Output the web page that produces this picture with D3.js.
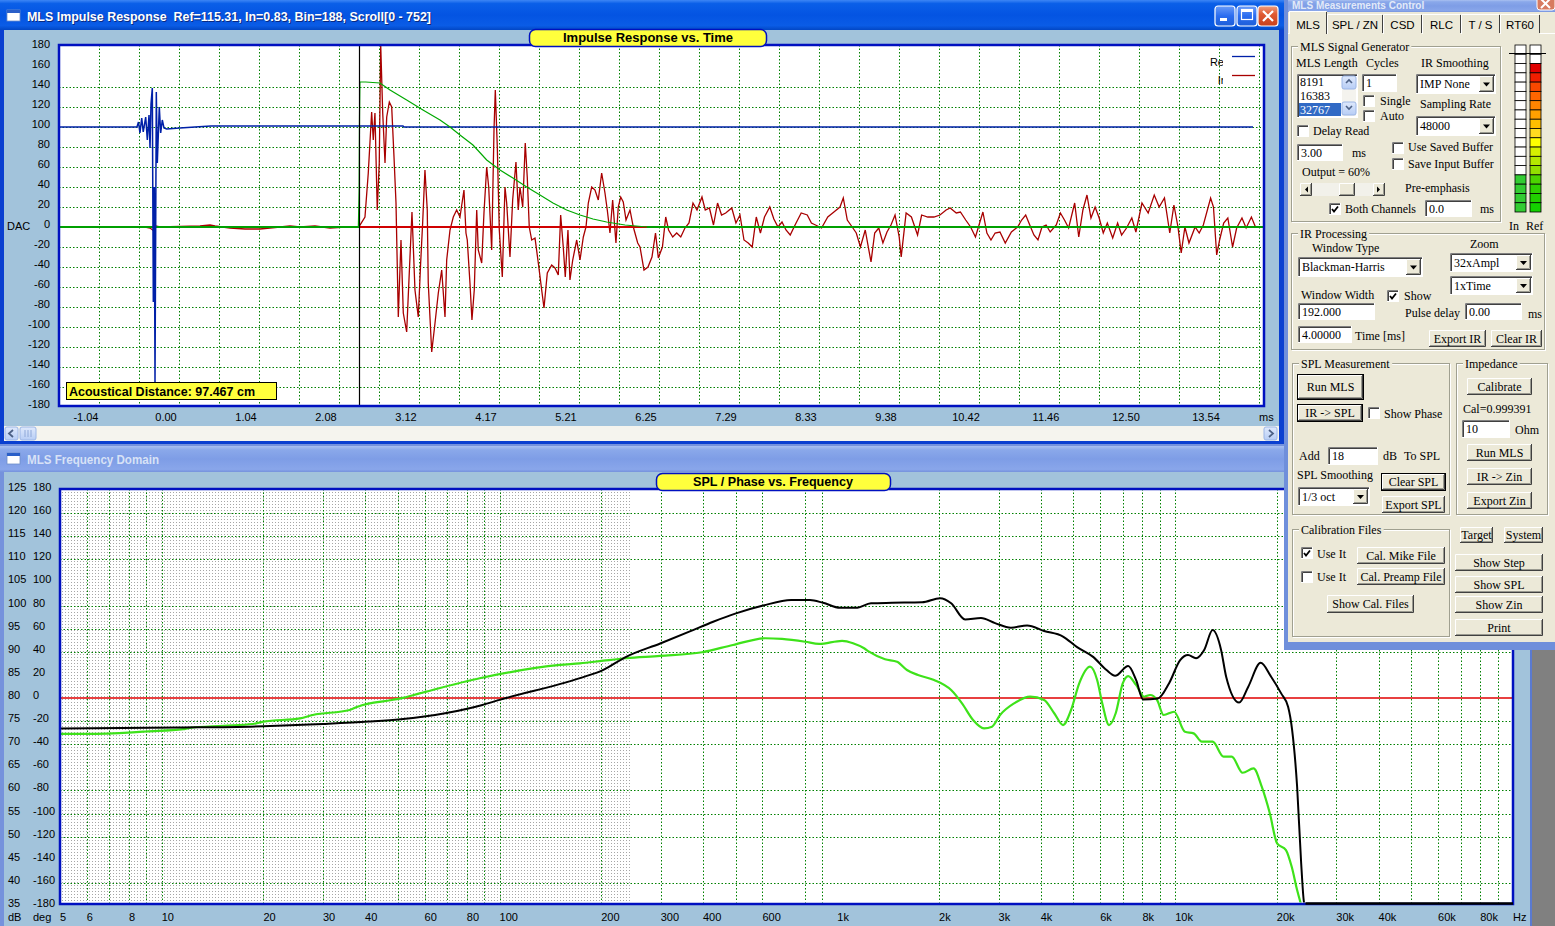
<!DOCTYPE html>
<html>
<head>
<meta charset="utf-8">
<title>MLS Measurements</title>
<script src="https://cdn.jsdelivr.net/npm/d3@7/dist/d3.min.js"></script>
<style>
body { margin: 0; background: #808080; overflow: hidden; }
svg { display: block; }
</style>
</head>
<body>
<script>
// ---------- impulse response (time in ms, amplitude in DAC units) ----------
var irTickTimes = [-1.042, 0, 1.042, 2.083, 3.125, 4.167, 5.208, 6.25, 7.292, 8.333, 9.375, 10.417, 11.458, 12.5, 13.542];
var irTickLabels = ["-1.04", "0.00", "1.04", "2.08", "3.12", "4.17", "5.21", "6.25", "7.29", "8.33", "9.38", "10.42", "11.46", "12.50", "13.54"];
var dacTicks = [180, 160, 140, 120, 100, 80, 60, 40, 20, 0, -20, -40, -60, -80, -100, -120, -140, -160, -180];
var dacGrid = [140, 120, 100, 80, 60, 40, 20, -20, -40, -60, -80, -100, -120, -140, -160];

var refTimes = [-1.393, -0.378, -0.358, -0.339, -0.316, -0.296, -0.264, -0.243, -0.221, -0.208, -0.195, -0.178, -0.165, -0.152, -0.143, -0.126, -0.113, -0.087, -0.069, -0.048, -0.026, 0.009, 0.182, 0.378, 0.586, 3.086, 3.099, 14.154];
var refValues = [100, 100, 105, 94, 109, 95, 110, 87, 112, 79, 123, 139, -75, 40, -156, 135, 64, 120, 94, 107, 99, 98, 99, 100, 101, 101, 100, 100];

var inTimes = [-0.273, -0.208, -0.156, -0.130, -0.078, 0.443, 0.573, 0.638, 0.833, 1.029, 1.224, 1.354, 1.615, 1.745, 1.940, 2.135, 2.331, 2.504,
  2.526, 2.591, 2.634, 2.678, 2.699, 2.721, 2.751, 2.777, 2.796, 2.822, 2.852, 2.874, 2.908, 2.939, 2.969, 2.995, 3.025, 3.060, 3.090, 3.134,
  3.177, 3.203, 3.242, 3.285, 3.316, 3.342, 3.372, 3.402, 3.415, 3.460, 3.503, 3.546, 3.590, 3.633, 3.655, 3.698, 3.741, 3.785, 3.828, 3.880,
  3.906, 3.923, 3.958, 3.984, 4.014, 4.046, 4.066, 4.111, 4.141, 4.176, 4.202, 4.241, 4.271, 4.288, 4.314, 4.340, 4.379, 4.414, 4.436, 4.479,
  4.514, 4.557, 4.587, 4.609, 4.645, 4.678, 4.704, 4.730, 4.762, 4.805, 4.848, 4.892, 4.922, 4.965, 5.022, 5.065, 5.108, 5.139, 5.173, 5.199,
  5.234, 5.260, 5.296, 5.348, 5.391, 5.434, 5.469, 5.499, 5.543, 5.586, 5.629, 5.673, 5.716, 5.746, 5.781, 5.816, 5.859, 5.889, 5.921, 5.954,
  5.990, 6.042, 6.085, 6.142, 6.172, 6.224, 6.276, 6.328, 6.374, 6.411, 6.464, 6.507, 6.544, 6.598, 6.650, 6.703, 6.757, 6.810, 6.862, 6.914,
  6.979, 7.022, 7.076, 7.129, 7.182, 7.234, 7.288, 7.367, 7.421, 7.474, 7.526, 7.581, 7.633, 7.686, 7.740, 7.793, 7.862, 7.915, 7.969, 8.021,
  8.073, 8.128, 8.191, 8.271, 8.350, 8.404, 8.457, 8.536, 8.617, 8.697, 8.776, 8.819, 8.871, 8.935, 8.988, 9.042, 9.105, 9.180, 9.228, 9.281,
  9.335, 9.388, 9.440, 9.493, 9.547, 9.573, 9.637, 9.706, 9.786, 9.839, 9.919, 9.999, 10.078, 10.158, 10.211, 10.290, 10.344, 10.413, 10.477,
  10.540, 10.637, 10.689, 10.742, 10.796, 10.859, 10.928, 11.008, 11.089, 11.141, 11.194, 11.247, 11.301, 11.354, 11.406, 11.460, 11.513,
  11.592, 11.646, 11.699, 11.753, 11.832, 11.885, 11.939, 11.992, 12.044, 12.098, 12.151, 12.204, 12.257, 12.327, 12.391, 12.443, 12.507,
  12.576, 12.629, 12.708, 12.789, 12.868, 12.932, 13.001, 13.070, 13.124, 13.177, 13.219, 13.267, 13.320, 13.400, 13.453, 13.507, 13.602,
  13.639, 13.681, 13.719, 13.772, 13.826, 13.888, 13.941, 14.010, 14.064, 14.133, 14.186];
var inValues = [0, -1, -4, 1, 0, 1, 2, 1, -1, -2, -2, -1, 1, 0, 1, -1, 0, 0,
  2, 10, 54, 115, 87, 114, 17, 64, 182, 114, 64, 110, 125, 120, 70, 24, -90, -13, -86, -105,
  -30, 15, -63, -90, -36, 4, 57, 17, -56, -125, -96, -66, -43, -90, -33, -3, 10, 17, 10, 37,
  -6, -13, -56, -93, -63, 17, -23, -36, 15, 60, 40, -23, 97, 137, 80, -3, -50, 40, 24, -30,
  27, 65, 17, 40, 20, 84, 50, 0, -13, -11, -36, -63, -81, -46, -38, -41, -48, 12, -20, -50,
  -3, -53, -33, -13, -33, -10, 0, 24, 40, 37, 27, 54, 34, 17, -6, 27, -16, 20, 30, 25,
  7, 17, 0, -16, -20, -43, -40, -30, -6, -31, -20, 10, -3, -10, -6, -10, -1, 4, 24, 17,
  30, 17, 19, 2, 24, 12, 14, 19, 4, 12, -13, -16, -20, 10, -6, 10, 20, 8, 0, 5,
  -3, -8, 2, 14, 12, 4, 2, -1, 10, 15, 20, 29, 7, 0, -6, -20, -3, -35, -6, -1,
  -16, -5, 2, 12, -10, -30, 14, 10, -8, 12, 10, 10, 12, 17, 19, 14, 15, 7, 0,
  -10, 15, -6, -13, -6, -5, -16, -5, 0, 7, 12, 2, -8, -13, 0, 2, -5,
  2, 14, 7, -1, 24, -10, 17, 32, 9, 20, 9, -6, 4, -11, 4, -8, -1,
  9, -5, 24, 14, 32, 20, 29, -6, 22, 0, -26, 0, -16, 0, -6, 2, 29,
  20, -28, -13, 4, 9, -20, -1, 9, -1, 10, 0];

var windowTimes = [2.505, 2.515, 2.52, 2.525, 2.60, 2.786, 2.917, 3.134, 3.346, 3.568, 3.698, 3.828, 3.997, 4.176, 4.349, 4.518, 4.697, 4.870, 5.039, 5.217, 5.391, 5.560, 5.738, 5.977, 6.263];
var windowValues = [0, 37, 110, 145, 145, 144, 137, 127, 117, 107, 100, 92, 82, 67, 57, 49, 40, 32, 24, 17, 12, 8, 5, 2, 0];
var windowStart = 2.515, windowEnd = 6.263;

// ---------- frequency domain (Hz, dB, degrees) ----------
var freqTicks = [5, 6, 8, 10, 20, 30, 40, 60, 80, 100, 200, 300, 400, 600, 1000, 2000, 3000, 4000, 6000, 8000, 10000, 20000, 30000, 40000, 60000, 80000];
var freqLabels = ["5", "6", "8", "10", "20", "30", "40", "60", "80", "100", "200", "300", "400", "600", "1k", "2k", "3k", "4k", "6k", "8k", "10k", "20k", "30k", "40k", "60k", "80k"];
var freqGrid = [6, 7, 8, 9, 10, 20, 30, 40, 50, 60, 70, 80, 90, 100, 200, 300, 400, 500, 600, 800, 900, 2000, 3000, 4000, 5000, 6000, 7000, 8000, 9000, 10000, 20000, 30000, 40000, 50000, 60000, 70000, 80000, 90000];
var dbTicks = [125, 120, 115, 110, 105, 100, 95, 90, 85, 80, 75, 70, 65, 60, 55, 50, 45, 40, 35];
var degTicks = [180, 160, 140, 120, 100, 80, 60, 40, 20, 0, -20, -40, -60, -80, -100, -120, -140, -160, -180];
var dbGrid = [120, 115, 110, 100, 95, 90, 75, 70, 60, 55, 50, 40];

var splFreqs = [5, 11.3, 20, 30, 41, 51, 69, 89, 100, 173, 203, 237, 299, 366, 429, 501, 603, 730, 830, 907, 1019, 1135, 1258, 1452, 1782, 2014, 2172, 2388, 2662, 2930, 3266, 3645, 4093, 4656, 5125, 5715, 6250, 6640, 7260, 7660, 8035, 8890, 9595, 10345, 10915, 11530, 12185, 12910, 13675, 14155, 15465, 16445, 17905, 19230, 20595, 21590, 22190, 22960, 23605, 24105, 24300, 100000];
var splDb = [73.4, 73.6, 73.9, 74.4, 74.9, 75.4, 76.7, 78.5, 79.6, 84.3, 86.1, 88.9, 91.8, 94.4, 96.5, 98.3, 100.0, 101.2, 101.2, 100.6, 99.5, 99.5, 100.5, 100.6, 100.7, 101.6, 100.5, 97.0, 97.3, 96.2, 95.2, 95.7, 94.5, 93.3, 91.0, 88.9, 86.1, 84.8, 86.9, 83.9, 79.7, 79.9, 83.2, 88.2, 89.3, 88.6, 90.4, 94.7, 90.4, 84.6, 79.0, 82.4, 87.6, 84.6, 81.0, 78.1, 73.1, 60.8, 44.2, 35.5, 35.2, 35.2];

var phaseFreqs = [5, 6, 8.2, 9, 11.6, 12, 15.2, 18.6, 20, 25.7, 28, 36, 38, 48, 51, 58, 88, 151, 173, 203, 237, 299, 398, 491, 611, 686, 803, 883, 1033, 1113, 1200, 1241, 1384, 1502, 1607, 1733, 1933, 2172, 2339, 2522, 2717, 2870, 3032, 3337, 3722, 4093, 4385, 4656, 4918, 5200, 5600, 5875, 6083, 6370, 6667, 6995, 7260, 7660, 8092, 8430, 8835, 9245, 9930, 10690, 11340, 11990, 12910, 13910, 14700, 15840, 17060, 18040, 19060, 20030, 21280, 22130, 22960, 23600];
var phaseDeg = [-31, -31, -29.7, -29, -27, -26, -24, -22.5, -20.5, -17.6, -14.7, -10.4, -7.5, -1.7, -0.3, 4, 17.3, 28.6, 30, 32.3, 34.4, 36.4, 39.6, 45.9, 51.7, 51.1, 48.7, 46.8, 49.5, 47.4, 43.0, 40.1, 33.5, 31.4, 24.2, 19.9, 15.6, 6.9, -4.6, -19, -26.2, -24.8, -14.7, -4.6, 1.2, -1.7, -13.2, -23.4, -10.4, 12.7, 27.1, 15.6, -4.6, -23.4, -13.2, 12.7, 19.0, 11.3, 1.1, 2.6, -1.7, -14.7, -11.9, -29.2, -30.6, -37.8, -37.8, -50.8, -50.8, -64.7, -60.9, -76.8, -99.8, -125.8, -131.6, -146.1, -166.2, -179];

// ---------- control panel texts ----------
var tabNames = ["MLS", "SPL / ZN", "CSD", "RLC", "T / S", "RT60"];
var mlsLengths = ["8191", "16383", "32767"];

// ======================================================================
var W = 1555, H = 926;
var clientBlue = "#a2c3db", beige = "#ece9d8";

var svg = d3.select("body").append("svg").attr("width", W).attr("height", H);
var defs = svg.append("defs");

function gradient(id, stops) {
    var g = defs.append("linearGradient").attr("id", id).attr("x1", 0).attr("y1", 0).attr("x2", 0).attr("y2", 1);
    stops.forEach(function (s) { g.append("stop").attr("offset", s[0]).attr("stop-color", s[1]); });
}
gradient("activeTitle", [[0, "#3d86f5"], [0.12, "#0a5fe8"], [0.5, "#0454e2"], [0.85, "#0a5ce6"], [1, "#0247c4"]]);
gradient("inactiveTitle", [[0, "#a9c0f0"], [0.15, "#8aa8ea"], [0.5, "#7e9de6"], [0.9, "#89a6ea"], [1, "#7592dc"]]);
gradient("xpBtn", [[0, "#6a9cf8"], [0.5, "#2a6cf0"], [1, "#1e5fd8"]]);
gradient("xpClose", [[0, "#f0a080"], [0.4, "#e05a32"], [1, "#c8401c"]]);
gradient("scrollBtn", [[0, "#dfe9fc"], [1, "#b7cdf5"]]);

function txt(g, x, y, s, o) {
    o = o || {};
    var t = g.append("text").attr("x", x).attr("y", y).text(s)
        .style("font-family", o.family || "Liberation Serif")
        .style("font-size", (o.size || 12) + "px")
        .style("font-weight", o.weight || "normal")
        .style("white-space", "pre")
        .attr("fill", o.fill || "#000")
        .attr("text-anchor", o.anchor || "start");
    if (o.len) t.attr("textLength", o.len).attr("lengthAdjust", "spacingAndGlyphs");
    return t;
}

function rect(g, x, y, w, h, fill, stroke, sw) {
    return g.append("rect").attr("x", x).attr("y", y).attr("width", w).attr("height", h)
        .attr("fill", fill || "none").attr("stroke", stroke || "none").attr("stroke-width", sw || 1);
}

function winIcon(g, x, y) {
    rect(g, x, y, 13, 11, "#fff", "#6f8fc8", 0.8);
    rect(g, x, y, 13, 3, "#2a5fc8");
}

// ---------------- top window: MLS Impulse Response ----------------
var irWin = svg.append("g");
rect(irWin, 0, 0, 1284, 445, "#0a3fd0");
rect(irWin, 0, 0, 1284, 30, "url(#activeTitle)");
rect(irWin, 4, 30, 1275, 411, clientBlue);
winIcon(irWin, 7, 10);
txt(irWin, 28, 22, "MLS Impulse Response  Ref=115.31, In=0.83, Bin=188, Scroll[0 - 752]",
    { family: "Liberation Sans", size: 12.5, weight: "bold", fill: "#0a2a80", len: 404 });
txt(irWin, 27, 21, "MLS Impulse Response  Ref=115.31, In=0.83, Bin=188, Scroll[0 - 752]",
    { family: "Liberation Sans", size: 12.5, weight: "bold", fill: "#fff", len: 404 });

// caption buttons
[[1215, "min"], [1237, "max"], [1258, "close"]].forEach(function (b) {
    var bx = b[0];
    irWin.append("rect").attr("x", bx).attr("y", 6).attr("width", 20).attr("height", 20).attr("rx", 3)
        .attr("fill", b[1] === "close" ? "url(#xpClose)" : "url(#xpBtn)").attr("stroke", "#fff").attr("stroke-width", 1.2);
    if (b[1] === "min") rect(irWin, bx + 5, 18, 7, 3, "#fff");
    if (b[1] === "max") { rect(irWin, bx + 4.5, 9.5, 11, 10, "none", "#fff", 1.2); rect(irWin, bx + 4, 9, 12, 3, "#fff"); }
    if (b[1] === "close") irWin.append("path").attr("d", "M" + (bx + 5) + ",11L" + (bx + 15) + ",21M" + (bx + 15) + ",11L" + (bx + 5) + ",21")
        .attr("stroke", "#fff").attr("stroke-width", 2.2);
});

// scrollbar
rect(irWin, 4, 426, 1275, 15, "#f5f4ee");
irWin.append("rect").attr("x", 5).attr("y", 427).attr("width", 13).attr("height", 13).attr("rx", 2).attr("fill", "url(#scrollBtn)").attr("stroke", "#9cb6e6");
irWin.append("path").attr("d", "M13,430L9,433.5L13,437").attr("stroke", "#4d6185").attr("stroke-width", 1.8).attr("fill", "none");
irWin.append("rect").attr("x", 20).attr("y", 427).attr("width", 16).attr("height", 13).attr("rx", 2).attr("fill", "url(#scrollBtn)").attr("stroke", "#9cb6e6");
[25, 28, 31].forEach(function (gx) { irWin.append("line").attr("x1", gx).attr("x2", gx).attr("y1", 430).attr("y2", 437).attr("stroke", "#8fa8d8"); });
irWin.append("rect").attr("x", 1264).attr("y", 427).attr("width", 13).attr("height", 13).attr("rx", 2).attr("fill", "url(#scrollBtn)").attr("stroke", "#9cb6e6");
irWin.append("path").attr("d", "M1269,430L1273,433.5L1269,437").attr("stroke", "#4d6185").attr("stroke-width", 1.8).attr("fill", "none");

// plot
var irLeft = 59, irRight = 1264, irTop = 45, irBottom = 406;
var xIR = d3.scaleLinear().domain([-1.393, 14.297]).range([irLeft, irRight]);
var yIR = d3.scaleLinear().domain([-180, 180]).range([407, 47]);
var irGridTimes = d3.range(1, 31).map(function (k) { return -1.393 + k * 0.52083; });

defs.append("clipPath").attr("id", "irClip").append("rect")
    .attr("x", irLeft + 1).attr("y", irTop + 1).attr("width", irRight - irLeft - 2).attr("height", irBottom - irTop - 2);
rect(irWin, irLeft, irTop, irRight - irLeft, irBottom - irTop, "#fff");
var irPlot = irWin.append("g").attr("clip-path", "url(#irClip)");

irPlot.selectAll(".vgrid").data(irGridTimes).enter().append("line")
    .attr("x1", function (d) { return Math.round(xIR(d)) + 0.5; }).attr("x2", function (d) { return Math.round(xIR(d)) + 0.5; })
    .attr("y1", irTop).attr("y2", irBottom)
    .attr("stroke", "#008000").attr("stroke-dasharray", "1.5,2");
irPlot.selectAll(".hgrid").data(dacGrid).enter().append("line")
    .attr("x1", irLeft).attr("x2", irRight)
    .attr("y1", function (d) { return yIR(d) + 0.5; }).attr("y2", function (d) { return yIR(d) + 0.5; })
    .attr("stroke", "#008000").attr("stroke-dasharray", "1.5,2");

var irLine = d3.line().x(function (d) { return xIR(d[0]); }).y(function (d) { return yIR(d[1]); });

irPlot.append("path").datum(d3.zip(inTimes, inValues)).attr("d", irLine)
    .attr("fill", "none").attr("stroke", "#a80000").attr("stroke-width", 1.3);
irPlot.append("line").attr("x1", irLeft).attr("x2", irRight).attr("y1", yIR(0)).attr("y2", yIR(0))
    .attr("stroke", "#00a000").attr("stroke-width", 2);
irPlot.append("line").attr("x1", xIR(windowStart)).attr("x2", xIR(windowEnd)).attr("y1", yIR(0)).attr("y2", yIR(0))
    .attr("stroke", "#d00000").attr("stroke-width", 2);
irPlot.append("path").datum(d3.zip(refTimes, refValues)).attr("d", irLine)
    .attr("fill", "none").attr("stroke", "#0020a8").attr("stroke-width", 1.5);
irPlot.append("path").datum(d3.zip(windowTimes, windowValues)).attr("d", irLine)
    .attr("fill", "none").attr("stroke", "#00a800").attr("stroke-width", 1.2);
irPlot.append("line").attr("x1", Math.round(xIR(windowStart)) + 0.5).attr("x2", Math.round(xIR(windowStart)) + 0.5)
    .attr("y1", irTop).attr("y2", irBottom).attr("stroke", "#000").attr("stroke-width", 1.2);

// legend
defs.append("clipPath").attr("id", "legClip").append("rect").attr("x", 1190).attr("y", 50).attr("width", 33).attr("height", 40);
var leg = irPlot.append("g");
txt(leg, 1227, 66, "Ref", { family: "Liberation Sans", size: 11, anchor: "end" }).attr("clip-path", "url(#legClip)");
txt(leg, 1227, 84, "In", { family: "Liberation Sans", size: 11, anchor: "end" }).attr("clip-path", "url(#legClip)");
leg.append("line").attr("x1", 1232).attr("x2", 1255).attr("y1", 56.5).attr("y2", 56.5).attr("stroke", "#0020a8").attr("stroke-width", 1.3);
leg.append("line").attr("x1", 1232).attr("x2", 1255).attr("y1", 75.5).attr("y2", 75.5).attr("stroke", "#a80000").attr("stroke-width", 1.3);

// acoustical distance box
rect(irWin, 66.5, 382.5, 210, 17, "#ffff3c", "#000", 1);
txt(irWin, 69, 396, "Acoustical Distance: 97.467 cm", { family: "Liberation Sans", size: 12.5, weight: "bold", len: 186 });

rect(irWin, irLeft, irTop, irRight - irLeft, irBottom - irTop, "none", "#0010c0", 2.5);

// axis labels
irWin.selectAll(".ylab").data(dacTicks).enter().append("text")
    .attr("x", 50).attr("y", function (d) { return yIR(d) + 1; })
    .attr("text-anchor", "end").style("font-family", "Liberation Sans").style("font-size", "11px")
    .text(function (d) { return d; });
txt(irWin, 7, 230, "DAC", { family: "Liberation Sans", size: 11 });
irWin.selectAll(".xlab").data(irTickTimes).enter().append("text")
    .attr("x", function (d) { return xIR(d); }).attr("y", 421)
    .attr("text-anchor", "middle").style("font-family", "Liberation Sans").style("font-size", "11px")
    .text(function (d, i) { return irTickLabels[i]; });
txt(irWin, 1259, 421, "ms", { family: "Liberation Sans", size: 11 });

// chart caption tab
irWin.append("rect").attr("x", 529.5).attr("y", 29.5).attr("width", 237).attr("height", 17).attr("rx", 6)
    .attr("fill", "#ffff3c").attr("stroke", "#0010c0").attr("stroke-width", 1.5);
txt(irWin, 648, 42, "Impulse Response vs. Time", { family: "Liberation Sans", size: 12.5, weight: "bold", anchor: "middle", len: 170 });

// ---------------- bottom window: MLS Frequency Domain ----------------
var frWin = svg.append("g");
rect(frWin, 0, 444, 1534, 482, "#7592dc");
rect(frWin, 0, 446, 1534, 26, "url(#inactiveTitle)");
rect(frWin, 4, 472, 1527, 454, clientBlue);
winIcon(frWin, 7, 453);
txt(frWin, 27, 464, "MLS Frequency Domain", { family: "Liberation Sans", size: 12.5, weight: "bold", fill: "#d8e2f6", len: 132 });

var fLeft = 60, fRight = 1513, fTop = 489, fBottom = 904;
var xF = d3.scaleLog().domain([5, 100000]).range([fLeft, fRight]);
var yDb = d3.scaleLinear().domain([35, 125]).range([906, 490]);
var yDeg = d3.scaleLinear().domain([-180, 180]).range([906, 490]);
var fineGrid = d3.range(fLeft + 2, 631, 3).map(function (px) { return xF.invert(px); });

defs.append("clipPath").attr("id", "fClip").append("rect")
    .attr("x", fLeft + 1).attr("y", fTop + 1).attr("width", fRight - fLeft - 2).attr("height", fBottom - fTop - 2.5);
rect(frWin, fLeft, fTop, fRight - fLeft, fBottom - fTop, "#fff");
var fPlot = frWin.append("g").attr("clip-path", "url(#fClip)");

fPlot.selectAll(".fine").data(fineGrid).enter().append("line")
    .attr("x1", function (d) { return Math.round(xF(d)) + 0.5; }).attr("x2", function (d) { return Math.round(xF(d)) + 0.5; })
    .attr("y1", fTop).attr("y2", fBottom).attr("stroke", "#9c9c9c").attr("stroke-dasharray", "1,2").attr("stroke-width", 0.9);
fPlot.selectAll(".fgrid").data(freqGrid).enter().append("line")
    .attr("x1", function (d) { return Math.round(xF(d)) + 0.5; }).attr("x2", function (d) { return Math.round(xF(d)) + 0.5; })
    .attr("y1", fTop).attr("y2", fBottom).attr("stroke", "#008000").attr("stroke-dasharray", "1.5,2");
fPlot.selectAll(".dgrid").data(dbGrid).enter().append("line")
    .attr("x1", fLeft).attr("x2", fRight)
    .attr("y1", function (d) { return Math.round(yDb(d)) + 0.5; }).attr("y2", function (d) { return Math.round(yDb(d)) + 0.5; })
    .attr("stroke", "#008000").attr("stroke-dasharray", "1.5,2");
fPlot.append("line").attr("x1", fLeft).attr("x2", fRight).attr("y1", yDb(80)).attr("y2", yDb(80))
    .attr("stroke", "#e00000").attr("stroke-width", 1.3);

var splLine = d3.line().curve(d3.curveMonotoneX)
    .x(function (d) { return xF(d[0]); }).y(function (d) { return yDb(d[1]); });
var phaseLine = d3.line().curve(d3.curveMonotoneX)
    .x(function (d) { return xF(d[0]); }).y(function (d) { return yDeg(d[1]); });

fPlot.append("path").datum(d3.zip(phaseFreqs, phaseDeg)).attr("d", phaseLine)
    .attr("fill", "none").attr("stroke", "#3ee21a").attr("stroke-width", 2.2);
fPlot.append("path").datum(d3.zip(splFreqs, splDb)).attr("d", splLine)
    .attr("fill", "none").attr("stroke", "#000").attr("stroke-width", 2);

rect(frWin, fLeft, fTop, fRight - fLeft, fBottom - fTop, "none", "#0010c0", 2.5);
// SPL tail runs along the bottom edge
frWin.append("line").attr("x1", xF(24300)).attr("x2", fRight).attr("y1", fBottom - 0.5).attr("y2", fBottom - 0.5)
    .attr("stroke", "#000").attr("stroke-width", 2.5);

frWin.selectAll(".dblab").data(dbTicks).enter().append("text")
    .attr("x", 8).attr("y", function (d) { return yDb(d) + 1; })
    .style("font-family", "Liberation Sans").style("font-size", "11px").text(function (d) { return d; });
frWin.selectAll(".deglab").data(degTicks).enter().append("text")
    .attr("x", 33).attr("y", function (d) { return yDeg(d) + 1; })
    .style("font-family", "Liberation Sans").style("font-size", "11px").text(function (d) { return d; });
frWin.selectAll(".flab").data(freqTicks).enter().append("text")
    .attr("x", function (d) { return xF(d); }).attr("y", 921)
    .style("font-family", "Liberation Sans").style("font-size", "11px")
    .text(function (d, i) { return freqLabels[i]; });
txt(frWin, 8, 921, "dB", { family: "Liberation Sans", size: 11 });
txt(frWin, 33, 921, "deg", { family: "Liberation Sans", size: 11 });
txt(frWin, 1513, 921, "Hz", { family: "Liberation Sans", size: 11 });

frWin.append("rect").attr("x", 656.5).attr("y", 473.5).attr("width", 234).attr("height", 17).attr("rx", 6)
    .attr("fill", "#ffff3c").attr("stroke", "#0010c0").attr("stroke-width", 1.5);
txt(frWin, 773, 486, "SPL / Phase vs. Frequency", { family: "Liberation Sans", size: 12.5, weight: "bold", anchor: "middle", len: 160 });

// ---------------- control panel window ----------------
var cp = svg.append("g");
rect(cp, 1284, 0, 271, 650, "#6f8fdb");
rect(cp, 1288, 0, 267, 12, "url(#inactiveTitle)");
txt(cp, 1292, 9, "MLS Measurements Control", { family: "Liberation Sans", size: 10, weight: "bold", fill: "#e2eaf8" });
cp.append("rect").attr("x", 1537).attr("y", -10).attr("width", 18).attr("height", 20).attr("rx", 3).attr("fill", "#d77b60").attr("stroke", "#fff");
cp.append("path").attr("d", "M1541,-1L1550,8M1550,-1L1541,8").attr("stroke", "#fff").attr("stroke-width", 2);
rect(cp, 1288, 12, 267, 630, beige);

function sunken(g, x, y, w, h, fill) {
    rect(g, x, y, w, h, fill || "#fff");
    g.append("path").attr("d", "M" + (x + 0.5) + "," + (y + h) + "V" + (y + 0.5) + "H" + (x + w)).attr("stroke", "#808080").attr("fill", "none");
    g.append("path").attr("d", "M" + (x + 1.5) + "," + (y + h - 1) + "V" + (y + 1.5) + "H" + (x + w - 1)).attr("stroke", "#404040").attr("fill", "none");
    g.append("path").attr("d", "M" + x + "," + (y + h - 0.5) + "H" + (x + w - 0.5) + "V" + y).attr("stroke", "#fff").attr("fill", "none");
}
function raised(g, x, y, w, h, thick) {
    if (thick) rect(g, x - 1, y - 1, w + 2, h + 2, "#000");
    rect(g, x, y, w, h, beige);
    g.append("path").attr("d", "M" + (x + 0.5) + "," + (y + h - 1) + "V" + (y + 0.5) + "H" + (x + w - 1)).attr("stroke", "#fff").attr("fill", "none");
    g.append("path").attr("d", "M" + x + "," + (y + h - 0.5) + "H" + (x + w - 0.5) + "V" + y).attr("stroke", "#404040").attr("fill", "none");
    g.append("path").attr("d", "M" + (x + 1) + "," + (y + h - 1.5) + "H" + (x + w - 1.5) + "V" + (y + 1)).attr("stroke", "#9a9a90").attr("fill", "none");
}
function button(g, x, y, w, h, s, thick) {
    raised(g, x, y, w, h, thick);
    txt(g, x + w / 2, y + h / 2 + 4, s, { anchor: "middle" });
}
function textBox(g, x, y, w, h, s) {
    sunken(g, x, y, w, h);
    txt(g, x + 4, y + h / 2 + 4, s);
}
function combo(g, x, y, w, h, s) {
    textBox(g, x, y, w, h, s);
    raised(g, x + w - 17, y + 2, 15, h - 4);
    g.append("path").attr("d", "M" + (x + w - 13) + "," + (y + h / 2 - 1.5) + "h7l-3.5,4z").attr("fill", "#000");
}
function checkBox(g, x, y, on) {
    sunken(g, x, y, 12, 12);
    if (on) g.append("path").attr("d", "M" + (x + 3) + "," + (y + 6) + "l2,2.5l4,-5").attr("stroke", "#000").attr("stroke-width", 1.8).attr("fill", "none");
}
function groupBox(g, x, y, w, h, s) {
    g.append("rect").attr("x", x + 0.5).attr("y", y + 0.5).attr("width", w).attr("height", h).attr("fill", "none").attr("stroke", "#fff");
    g.append("rect").attr("x", x - 0.5).attr("y", y - 0.5).attr("width", w).attr("height", h).attr("fill", "none").attr("stroke", "#a0a090");
    var t = txt(g, x + 8, y + 4, s);
    var bb = t.node().getBBox();
    g.insert("rect", function () { return t.node(); }).attr("x", bb.x - 2).attr("y", bb.y).attr("width", bb.width + 4).attr("height", bb.height).attr("fill", beige);
}

// tabs
var tabX = [1289, 1327, 1383, 1422, 1461, 1500], tabW = [38, 56, 39, 39, 39, 40];
cp.append("line").attr("x1", 1288).attr("x2", 1555).attr("y1", 33.5).attr("y2", 33.5).attr("stroke", "#fff");
tabNames.forEach(function (n, i) {
    var sel = i === 0, y0 = sel ? 11 : 14;
    rect(cp, tabX[i], y0, tabW[i], 34 - y0, beige);
    cp.append("path").attr("d", "M" + (tabX[i] + 0.5) + ",34V" + (y0 + 0.5) + "H" + (tabX[i] + tabW[i] - 1)).attr("stroke", "#fff").attr("fill", "none");
    cp.append("path").attr("d", "M" + (tabX[i] + tabW[i] - 0.5) + "," + (y0 + 1) + "V" + (sel ? 34 : 33)).attr("stroke", "#404040").attr("fill", "none");
    txt(cp, tabX[i] + tabW[i] / 2, 29, n, { family: "Liberation Sans", size: 11.5, anchor: "middle" });
});

groupBox(cp, 1292, 47, 209, 175, "MLS Signal Generator");
groupBox(cp, 1292, 234, 253, 116, "IR Processing");
groupBox(cp, 1293, 364, 157, 151, "SPL Measurement");
groupBox(cp, 1457, 364, 91, 151, "Impedance");
groupBox(cp, 1293, 530, 157, 107, "Calibration Files");

var cpLabels = [
    [1296, 67, "MLS Length"], [1366, 67, "Cycles"], [1421, 67, "IR Smoothing"], [1380, 105, "Single"], [1380, 120, "Auto"],
    [1420, 108, "Sampling Rate"], [1313, 135, "Delay Read"], [1352, 157, "ms"], [1408, 151, "Use Saved Buffer"],
    [1408, 168, "Save Input Buffer"], [1302, 176, "Output = 60%"], [1405, 192, "Pre-emphasis"], [1345, 213, "Both Channels"],
    [1480, 213, "ms"], [1509, 230, "In"], [1526, 230, "Ref"], [1312, 252, "Window Type"], [1470, 248, "Zoom"],
    [1301, 299, "Window Width"], [1404, 300, "Show"], [1405, 317, "Pulse delay"], [1528, 318, "ms"], [1355, 340, "Time [ms]"],
    [1463, 413, "Cal=0.999391"], [1515, 434, "Ohm"], [1299, 460, "Add"], [1383, 460, "dB"], [1404, 460, "To SPL"],
    [1297, 479, "SPL Smoothing"], [1384, 418, "Show Phase"], [1317, 558, "Use It"], [1317, 581, "Use It"]
];
cpLabels.forEach(function (l) { txt(cp, l[0], l[1], l[2]); });

[[1362, 74, 35, 18, "1"], [1297, 144, 46, 17, "3.00"], [1425, 200, 47, 17, "0.0"], [1298, 303, 77, 17, "192.000"],
 [1465, 303, 57, 17, "0.00"], [1298, 326, 54, 17, "4.00000"], [1328, 447, 50, 18, "18"], [1462, 420, 48, 18, "10"]]
    .forEach(function (b) { textBox(cp, b[0], b[1], b[2], b[3], b[4]); });

[[1416, 74, 80, 20, "IMP None"], [1416, 116, 80, 20, "48000"], [1298, 257, 125, 20, "Blackman-Harris"],
 [1450, 253, 83, 19, "32xAmpl"], [1450, 276, 83, 19, "1xTime"], [1298, 487, 72, 19, "1/3 oct"]]
    .forEach(function (b) { combo(cp, b[0], b[1], b[2], b[3], b[4]); });

[[1363, 95, false], [1363, 110, false], [1297, 125, false], [1392, 142, false], [1392, 158, false], [1329, 203, true],
 [1387, 290, true], [1368, 407, false], [1301, 547, true], [1301, 571, false]]
    .forEach(function (c) { checkBox(cp, c[0], c[1], c[2]); });

[[1429, 330, 57, 17, "Export IR"], [1491, 330, 51, 17, "Clear IR"], [1298, 375, 65, 24, "Run MLS", true],
 [1298, 405, 64, 16, "IR -> SPL", true], [1382, 474, 63, 16, "Clear SPL", true], [1382, 496, 63, 17, "Export SPL"],
 [1467, 378, 65, 17, "Calibrate"], [1467, 444, 65, 17, "Run MLS"], [1467, 468, 65, 17, "IR -> Zin"], [1467, 492, 65, 17, "Export Zin"],
 [1357, 547, 88, 17, "Cal. Mike File"], [1357, 568, 88, 17, "Cal. Preamp File"], [1327, 595, 87, 18, "Show Cal. Files"],
 [1460, 527, 33, 16, "Target"], [1504, 527, 39, 16, "System"], [1455, 554, 88, 17, "Show Step"], [1455, 576, 88, 17, "Show SPL"],
 [1455, 596, 88, 17, "Show Zin"], [1455, 619, 88, 17, "Print"]]
    .forEach(function (b) { button(cp, b[0], b[1], b[2], b[3], b[4], b[5]); });

// MLS length list box
sunken(cp, 1297, 74, 61, 44);
mlsLengths.forEach(function (s, i) {
    if (i === 2) rect(cp, 1299, 103, 42, 13, "#316ac5");
    txt(cp, 1300, 86 + i * 14, s, { fill: i === 2 ? "#fff" : "#000" });
});
rect(cp, 1342, 76, 14, 40, "#f4f3ee");
[[1342, 76, "M1346,83l3,-3l3,3"], [1342, 102, "M1346,106l3,3l3,-3"]].forEach(function (a) {
    cp.append("rect").attr("x", a[0]).attr("y", a[1]).attr("width", 14).attr("height", 13).attr("rx", 2).attr("fill", "url(#scrollBtn)").attr("stroke", "#9cb6e6");
    cp.append("path").attr("d", a[2]).attr("stroke", "#4d6185").attr("stroke-width", 1.6).attr("fill", "none");
});

// output slider
rect(cp, 1300, 183, 85, 13, "#f2f1ea");
raised(cp, 1300, 183, 12, 13);
raised(cp, 1373, 183, 12, 13);
raised(cp, 1339, 183, 16, 13);
cp.append("path").attr("d", "M1308,186.5v6l-3,-3z").attr("fill", "#000");
cp.append("path").attr("d", "M1377,186.5v6l3,-3z").attr("fill", "#000");

// level meters
var meterTop = 45, meterBottom = 212, meterCells = 18;
var refMeterColors = ["#fff", "#fff", "#e00000", "#f01e00", "#f84800", "#ff6600", "#ff8400", "#ffa000", "#ffbe00", "#ffdc20", "#ffff00", "#d6f000", "#b4e800", "#92e000", "#4cd400", "#2ed000", "#22d000", "#14d000"];
var inMeterColors = d3.range(meterCells).map(function (i) { return i < 14 ? "#fff" : "#33cc33"; });
var cellH = (meterBottom - meterTop) / meterCells;
[[1515, inMeterColors], [1530, refMeterColors]].forEach(function (m) {
    cp.selectAll(null).data(m[1]).enter().append("rect")
        .attr("x", m[0]).attr("y", function (d, i) { return meterTop + i * cellH; })
        .attr("width", 11).attr("height", cellH).attr("fill", function (d) { return d; })
        .attr("stroke", "#000").attr("stroke-width", 0.8);
});
cp.append("line").attr("x1", 1509).attr("x2", 1546).attr("y1", 53.5).attr("y2", 53.5).attr("stroke", "#000");

// desktop strip below control panel / right of bottom window
rect(svg, 1532, 650, 23, 276, "#808080");
svg.append("line").attr("x1", 1531).attr("x2", 1531).attr("y1", 650).attr("y2", 926).attr("stroke", "#5a7ad0").attr("stroke-width", 2);
</script>
</body>
</html>
